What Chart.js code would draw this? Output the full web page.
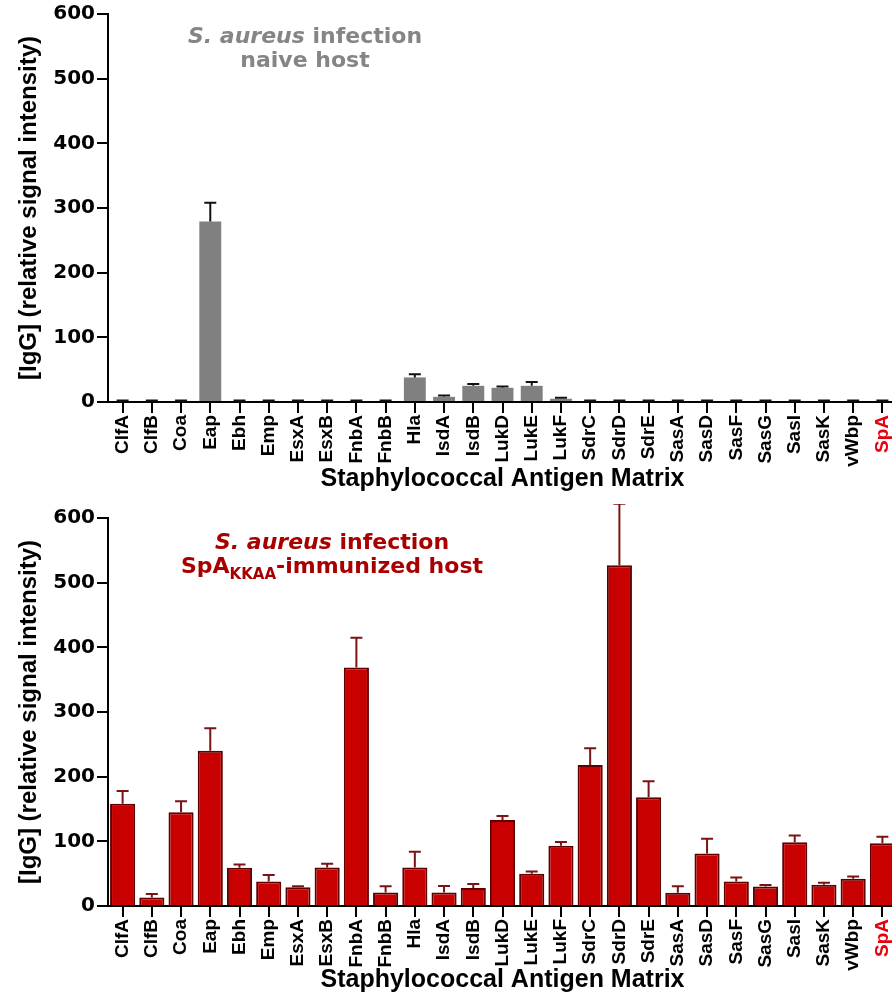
<!DOCTYPE html>
<html lang="en">
<head>
<meta charset="UTF-8">
<title>Staphylococcal Antigen Matrix - IgG</title>
<script src="https://cdn.jsdelivr.net/npm/chart.js"></script>
<style>
  html, body { margin: 0; padding: 0; background: #fff; overflow: hidden; }
  .page { width: 892px; height: 996px; overflow: hidden; position: relative; }
  .panel { position: absolute; left: 0; }
</style>
</head>
<body>
<div class="page">
  <div class="panel" style="top:0"><canvas id="naive" width="910" height="504"></canvas></div>
  <div class="panel" style="top:504px"><canvas id="immunized" width="910" height="492"></canvas></div>
</div>
<script>
// antigens on the array
const antigens = ['ClfA', 'ClfB', 'Coa', 'Eap', 'Ebh', 'Emp', 'EsxA', 'EsxB', 'FnbA', 'FnbB',
  'Hla', 'IsdA', 'IsdB', 'LukD', 'LukE', 'LukF', 'SdrC', 'SdrD', 'SdrE', 'SasA',
  'SasD', 'SasF', 'SasG', 'SasI', 'SasK', 'vWbp', 'SpA'];
const highlighted = ['SpA'];

// naive host
const naiveMean = [1.5, 1.5, 1.5, 279, 1.5, 1.5, 1.5, 1.5, 1.5, 1.5,
  38, 8, 25, 22, 25, 5, 1.5, 1.5, 1.5, 1.5,
  1.5, 1.5, 1.5, 1.5, 1.5, 1.5, 1.5];
const naiveSem = [1, 1, 1, 29, 1, 1, 1, 1, 1, 1,
  5, 2, 3, 2, 6, 1.5, 1, 1, 1, 1,
  1, 1, 1, 1, 1, 1, 1];

// SpA-KKAA immunized host
const immunizedMean = [158, 13, 145, 240, 59, 38, 29, 59.5, 369, 21,
  59.5, 21, 28, 133, 50, 93, 218, 527, 168, 20.5,
  81, 38, 30, 98.5, 33, 42, 97];
const immunizedSem = [20, 5.5, 17, 35, 5, 10, 1.5, 6, 46, 9.5,
  24.5, 10, 6, 6, 3.5, 6, 26, 95, 25, 10,
  23, 6, 2.5, 10.5, 3, 3.5, 10];

const yMin = 0, yMax = 600, yStep = 100;

const errorBars = {
  id: 'errorBars',
  afterDatasetsDraw(chart, args, opts) {
    const ctx = chart.ctx;
    const yScale = chart.scales.y;
    const values = chart.data.datasets[0].data;
    ctx.save();
    ctx.strokeStyle = opts.color;
    ctx.lineWidth = opts.width;
    chart.getDatasetMeta(0).data.forEach((bar, i) => {
      const top = yScale.getPixelForValue(values[i] + opts.sem[i]);
      ctx.beginPath();
      ctx.moveTo(bar.x, bar.y);
      ctx.lineTo(bar.x, top);
      ctx.moveTo(bar.x - opts.cap / 2, top);
      ctx.lineTo(bar.x + opts.cap / 2, top);
      ctx.stroke();
    });
    ctx.restore();
  }
};

// two-line label inside the plot, with italic / subscript runs
const panelTitle = {
  id: 'panelTitle',
  afterDraw(chart, args, opts) {
    const {ctx, chartArea} = chart;
    ctx.save();
    ctx.fillStyle = opts.color;
    ctx.textBaseline = 'alphabetic';
    opts.lines.forEach(line => {
      let total = 0;
      line.forEach(r => { ctx.font = r.font; total += ctx.measureText(r.text).width; });
      let x = chartArea.left + opts.dx - total / 2;
      line.forEach(r => {
        ctx.font = r.font;
        ctx.fillText(r.text, x, chartArea.top + r.dy);
        x += ctx.measureText(r.text).width;
      });
    });
    ctx.restore();
  }
};

const B = "bold 22px 'DejaVu Sans'";
const BI = "italic bold 22px 'DejaVu Sans'";
const SUB = "bold 15px 'DejaVu Sans'";

function makeChart(id, values, sem, o) {
  return new Chart(document.getElementById(id), {
    type: 'bar',
    data: {
      labels: antigens,
      datasets: [{
        data: values,
        backgroundColor: o.fill,
        borderColor: o.border,
        borderWidth: o.borderWidth,
        barPercentage: o.barPct,
        categoryPercentage: 1
      }]
    },
    options: {
      responsive: false,
      animation: false,
      layout: { padding: { left: 0, right: 13, top: 14, bottom: 0 } },
      plugins: {
        legend: { display: false },
        tooltip: { enabled: false },
        errorBars: { sem: sem, color: o.errColor, width: 2, cap: 12 },
        panelTitle: { color: o.titleColor, dx: o.titleDx, lines: o.titleLines }
      },
      scales: {
        x: {
          afterFit: s => { s.height = o.xHeight; },
          border: { color: '#000', width: 2 },
          grid: { offset: false, drawOnChartArea: false, drawTicks: true, tickLength: 11, color: '#000', lineWidth: 2 },
          ticks: {
            autoSkip: false, minRotation: 90, maxRotation: 90, padding: 2,
            font: { family: "'Liberation Sans', Arial", weight: 'bold', size: 19 },
            color: c => highlighted.includes(antigens[c.index]) ? '#e8000b' : '#000'
          },
          title: {
            display: true, text: 'Staphylococcal Antigen Matrix', color: '#000',
            font: { family: "'Liberation Sans', Arial", weight: 'bold', size: 25 },
            padding: { top: 0, bottom: o.xTitlePad }
          }
        },
        y: {
          min: yMin, max: yMax,
          afterFit: s => { s.width = 108; },
          border: { color: '#000', width: 2 },
          grid: { drawOnChartArea: false, drawTicks: true, tickLength: 11, color: '#000', lineWidth: 2 },
          ticks: {
            stepSize: yStep, padding: 2, color: '#000',
            font: { family: "'DejaVu Sans'", weight: 'bold', size: 20 }
          },
          title: {
            display: true, text: '[IgG] (relative signal intensity)', color: '#000',
            font: { family: "'Liberation Sans', Arial", weight: 'bold', size: 24 },
            padding: { top: 15, bottom: 0 }
          }
        }
      }
    },
    plugins: [errorBars, panelTitle]
  });
}

makeChart('naive', naiveMean, naiveSem, {
  fill: '#808080', border: '#808080', borderWidth: 0, barPct: 0.75,
  errColor: '#111', xHeight: 102, xTitlePad: 10,
  titleColor: '#858585', titleDx: 197,
  titleLines: [
    [{ text: 'S. aureus', font: BI, dy: 29 }, { text: ' infection', font: B, dy: 29 }],
    [{ text: 'naive host', font: B, dy: 53 }]
  ]
});

makeChart('immunized', immunizedMean, immunizedSem, {
  fill: '#c80000', border: '#5e0000', borderWidth: 2, barPct: 0.86,
  errColor: '#7a1414', xHeight: 90, xTitlePad: 1,
  titleColor: '#a80000', titleDx: 224,
  titleLines: [
    [{ text: 'S. aureus', font: BI, dy: 31 }, { text: ' infection', font: B, dy: 31 }],
    [{ text: 'SpA', font: B, dy: 55 }, { text: 'KKAA', font: SUB, dy: 61 }, { text: '-immunized host', font: B, dy: 55 }]
  ]
});
</script>
</body>
</html>
